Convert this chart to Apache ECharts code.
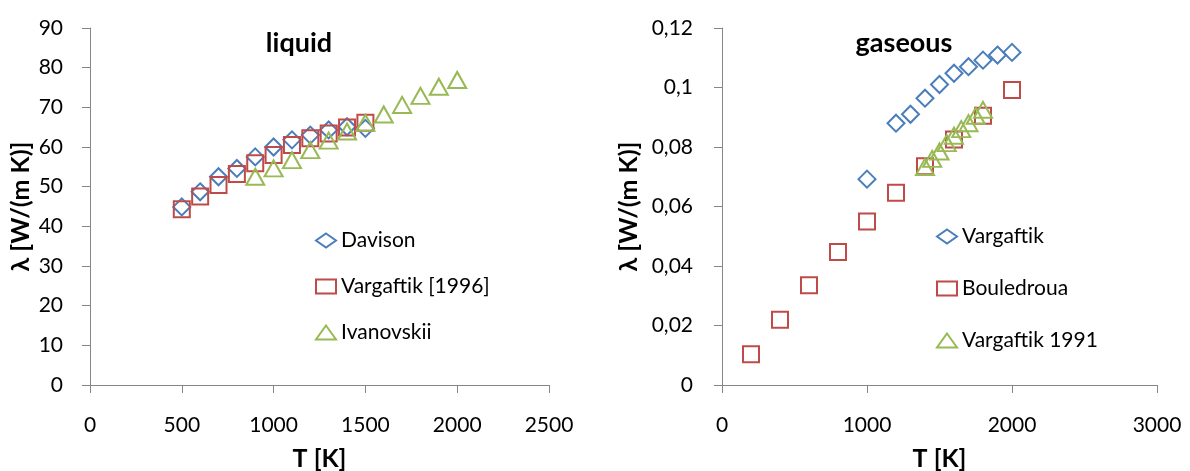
<!DOCTYPE html>
<html><head><meta charset="utf-8">
<script src="https://cdn.jsdelivr.net/npm/echarts@6/dist/echarts.min.js"></script>
<style>html,body{margin:0;padding:0;background:#fff}#c{width:1190px;height:471px}</style>
</head><body><div id="c"></div>
<script>
// Liquid
const davisonT = [500,600,700,800,900,1000,1100,1200,1300,1400,1500];
const davisonL = [44.9,48.7,52.5,54.6,57.5,60.0,61.8,63.0,64.3,65.1,64.7];
const varg1996T = [500,600,700,800,900,1000,1100,1200,1300,1400,1500];
const varg1996L = [44.3,47.5,50.4,53.2,55.9,58.0,60.5,62.2,63.4,64.9,66.1];
const ivanT = [900,1000,1100,1200,1300,1400,1500,1600,1700,1800,1900,2000];
const ivanL = [52.5,54.6,56.7,59.2,61.6,63.9,66.1,68.2,70.6,72.9,75.2,76.9];
// Gaseous
const vargGasT = [1000,1200,1300,1400,1500,1600,1700,1800,1900,2000];
const vargGasL = [0.0692,0.0880,0.0910,0.0964,0.1010,0.1048,0.1070,0.1092,0.1109,0.1118];
const bouledT = [200,400,600,800,1000,1200,1400,1600,1800,2000];
const bouledL = [0.0103,0.0219,0.0335,0.0447,0.0550,0.0646,0.0735,0.0825,0.0905,0.0992];
const varg1991T = [1400,1450,1500,1550,1600,1650,1700,1750,1800];
const varg1991L = [0.0733,0.0760,0.0785,0.0813,0.0838,0.0860,0.0880,0.0905,0.0925];

const blue = '#4a7ebb', red = '#be4b48', green = '#98b954';
const font = 'Lato';
const axisGrey = '#868686';
const zip = (a,b) => a.map((v,i)=>[v,b[i]]);

function xAxis(idx, max, interval){
  return {type:'value', gridIndex:idx, min:0, max:max, interval:interval,
    name:'T [K]', nameLocation:'middle', nameGap:61, nameMoveOverlap:false,
    nameTextStyle:{fontFamily:font, fontSize:25, fontWeight:'bold', color:'#000'},
    axisLine:{show:true, onZero:false, lineStyle:{color:axisGrey, width:1}},
    axisTick:{show:true, length:8, lineStyle:{color:axisGrey}},
    axisLabel:{fontFamily:font, fontSize:21, color:'#000', margin:30, formatter:v=>String(v)},
    splitLine:{show:false}};
}
function yAxis(idx, max, interval, gap, margin, fmt){
  return {type:'value', gridIndex:idx, min:0, max:max, interval:interval,
    name:'λ [W/(m K)]', nameLocation:'middle', nameGap:gap, nameRotate:90, nameMoveOverlap:false,
    nameTextStyle:{fontFamily:font, fontSize:25, fontWeight:'bold', color:'#000'},
    axisLine:{show:true, lineStyle:{color:axisGrey, width:1}},
    axisTick:{show:true, length:8, lineStyle:{color:axisGrey}},
    axisLabel:{fontFamily:font, fontSize:21, color:'#000', margin:margin, formatter:fmt},
    splitLine:{show:false}};
}
function sc(name, xi, data, symbol, size, color){
  return {type:'scatter', name:name, xAxisIndex:xi, yAxisIndex:xi, data:data,
    symbol:symbol, symbolSize:size,
    itemStyle:{color:'rgba(0,0,0,0)', borderColor:color, borderWidth:2, opacity:1},
    emphasis:{disabled:true}, animation:false};
}
const legendCommon = {orient:'vertical', itemWidth:20, itemHeight:14, symbolKeepAspect:true,
  textStyle:{fontFamily:font, fontSize:21, color:'#000', lineHeight:25}};

const chart = echarts.init(document.getElementById('c'), null, {renderer:'canvas'});
chart.setOption({
  animation:false,
  backgroundColor:'#fff',
  title:[
    {text:'liquid', left:294, top:25, textAlign:'center', textStyle:{fontFamily:font, fontSize:27, fontWeight:'bold', color:'#000'}},
    {text:'gaseous', left:899, top:25, textAlign:'center', textStyle:{fontFamily:font, fontSize:27, fontWeight:'bold', color:'#000'}}
  ],
  grid:[
    {left:90, top:28, width:459, height:357, outerBoundsMode:'none', containLabel:false},
    {left:722, top:28, width:435, height:357, outerBoundsMode:'none', containLabel:false}
  ],
  xAxis:[xAxis(0,2500,500), xAxis(1,3000,1000)],
  yAxis:[
    yAxis(0,90,10,57,27, v=>String(v)),
    yAxis(1,0.12,0.02,81,29, v=>String(parseFloat(v.toFixed(4))).replace('.',','))
  ],
  legend:[
    Object.assign({}, legendCommon, {left:310, top:223, itemGap:21, data:['Davison','Vargaftik [1996]','Ivanovskii']}),
    Object.assign({}, legendCommon, {left:931, top:219, itemGap:27, data:['Vargaftik','Bouledroua','Vargaftik 1991']})
  ],
  series:[
    sc('Davison',0,zip(davisonT,davisonL),'diamond',17,blue),
    sc('Vargaftik [1996]',0,zip(varg1996T,varg1996L),'rect',16,red),
    sc('Ivanovskii',0,zip(ivanT,ivanL),'triangle',[18,16],green),
    sc('Vargaftik',1,zip(vargGasT,vargGasL),'diamond',17,blue),
    sc('Bouledroua',1,zip(bouledT,bouledL),'rect',16,red),
    sc('Vargaftik 1991',1,zip(varg1991T,varg1991L),'triangle',[18,16],green)
  ]
});
</script></body></html>
